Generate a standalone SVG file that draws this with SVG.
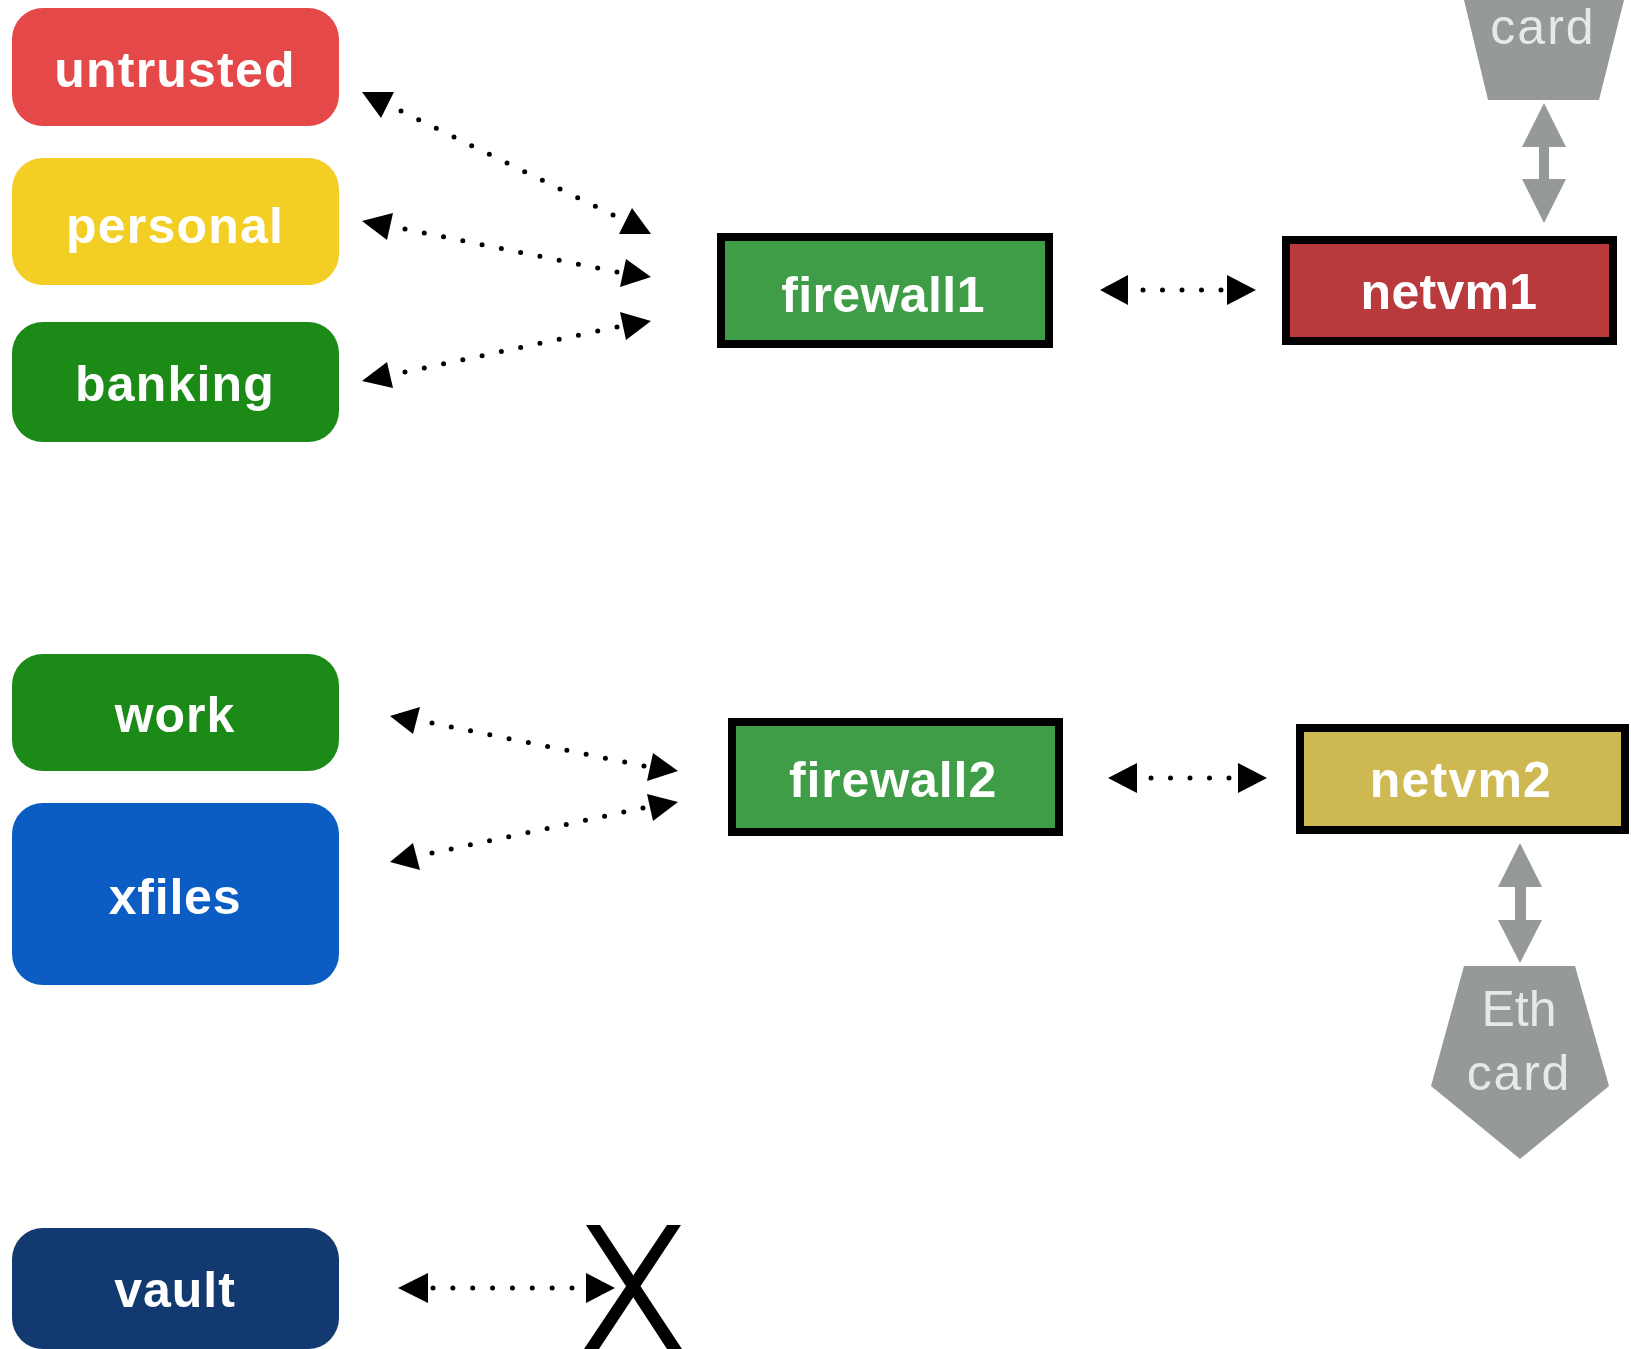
<svg xmlns="http://www.w3.org/2000/svg" width="1631" height="1349" viewBox="0 0 1631 1349">
<style>
.vm{stroke:none}
.box{stroke:#000;stroke-width:8}
.lbl{font-family:"Liberation Sans",Arial,sans-serif;font-weight:700;font-size:50px;fill:#fff;text-anchor:middle}
.card{font-family:"Liberation Sans",Arial,sans-serif;font-weight:400;font-size:50px;fill:#e6e9e7;text-anchor:middle}
.hw{fill:#959997}
.dots{stroke:#000;stroke-width:5;stroke-linecap:round;fill:none}
.head{fill:#000}
</style>
<rect width="1631" height="1349" fill="#fff"/>
<g id="connectors">
<line class="dots" stroke-dasharray="0 19.68" x1="401" y1="111" x2="613.9" y2="215.4"/>
<polygon class="head" points="362,92 394,92 381,118"/><polygon class="head" points="632,208 619,234 651,234"/>
<line class="dots" stroke-dasharray="0 19.66" x1="405" y1="229" x2="618" y2="272.2"/>
<polygon class="head" points="362,221 393,213 387,240"/><polygon class="head" points="626,259 651,277 620,287"/>
<line class="dots" stroke-dasharray="0 19.7" x1="405" y1="372" x2="618" y2="326.8"/>
<polygon class="head" points="362,381 387,362 393,388"/><polygon class="head" points="620,312 651,321 626,340"/>
<line class="dots" stroke-dasharray="0 19.66" x1="432" y1="723" x2="645" y2="766.2"/>
<polygon class="head" points="390,716 420,707 413,734"/><polygon class="head" points="653,753 678,771 647,781"/>
<line class="dots" stroke-dasharray="0 19.61" x1="432" y1="853" x2="644" y2="807.8"/>
<polygon class="head" points="390,862 413,843 420,870"/><polygon class="head" points="647,794 678,802 653,821"/>
<line class="dots" stroke-dasharray="0 19.5" x1="1143" y1="290" x2="1222" y2="290"/>
<polygon class="head" points="1100,290 1128,275 1128,305"/><polygon class="head" points="1256,290 1227,275 1227,305"/>
<line class="dots" stroke-dasharray="0 19.5" x1="1151" y1="778" x2="1230" y2="778"/>
<polygon class="head" points="1108,778 1137,763 1137,793"/><polygon class="head" points="1267,778 1238,763 1238,793"/>
<line class="dots" stroke-dasharray="0 19.857" x1="433" y1="1288" x2="573" y2="1288"/>
<polygon class="head" points="398,1288 428,1273 428,1303"/><polygon class="head" points="615,1288 586,1273 586,1303"/>
<polygon class="hw" points="1544,103 1566,147 1549,147 1549,179 1566,179 1544,223 1522,179 1539,179 1539,147 1522,147"/>
<polygon class="hw" points="1520,843 1542,887 1526,887 1526,920 1542,920 1520,963 1498,920 1515,920 1515,887 1498,887"/>
</g>
<g id="untrusted"><rect class="vm" x="12" y="8" width="327" height="118" rx="31" fill="#e54848"/><text class="lbl" x="175" y="87" letter-spacing="1.2">untrusted</text></g>
<g id="personal"><rect class="vm" x="12" y="158" width="327" height="127" rx="31" fill="#f3ce24"/><text class="lbl" x="175" y="243" letter-spacing="1.2">personal</text></g>
<g id="banking"><rect class="vm" x="12" y="322" width="327" height="120" rx="31" fill="#1c8a17"/><text class="lbl" x="175" y="401" letter-spacing="1.2">banking</text></g>
<g id="work"><rect class="vm" x="12" y="654" width="327" height="117" rx="31" fill="#1c8a17"/><text class="lbl" x="175" y="732" letter-spacing="1">work</text></g>
<g id="xfiles"><rect class="vm" x="12" y="803" width="327" height="182" rx="31" fill="#0b5dc4"/><text class="lbl" x="175" y="914" letter-spacing=".8">xfiles</text></g>
<g id="vault"><rect class="vm" x="12" y="1228" width="327" height="121" rx="31" fill="#133a70"/><text class="lbl" x="175" y="1307" letter-spacing="1">vault</text></g>
<g id="firewall1"><rect class="box" x="721" y="237" width="328" height="107" fill="#3f9d47"/><text class="lbl" x="883" y="312" letter-spacing=".4">firewall1</text></g>
<g id="firewall2"><rect class="box" x="732" y="722" width="327" height="110" fill="#3f9d47"/><text class="lbl" x="893" y="797" letter-spacing=".9">firewall2</text></g>
<g id="netvm1"><rect class="box" x="1286" y="240" width="327" height="101" fill="#b93a3d"/><text class="lbl" x="1449" y="309" letter-spacing=".3">netvm1</text></g>
<g id="netvm2"><rect class="box" x="1300" y="728" width="325" height="102" fill="#cdb852"/><text class="lbl" x="1461" y="797" letter-spacing="1.2">netvm2</text></g>
<g id="card-top"><polygon class="hw" points="1464,0 1624,0 1599,100 1488,100"/><text class="card" x="1543" y="44" letter-spacing="2">card</text></g>
<g id="eth-card"><polygon class="hw" points="1464,966 1575,966 1609,1086 1520,1159 1431,1086"/><text class="card" x="1519" y="1026">Eth</text><text class="card" x="1519" y="1090" letter-spacing="1.8">card</text></g>
<g id="blocked"><polygon class="head" points="586,1225 600,1225 682,1349 667,1349"/><polygon class="head" points="667,1225 681,1225 599,1349 584,1349"/></g>
</svg>
